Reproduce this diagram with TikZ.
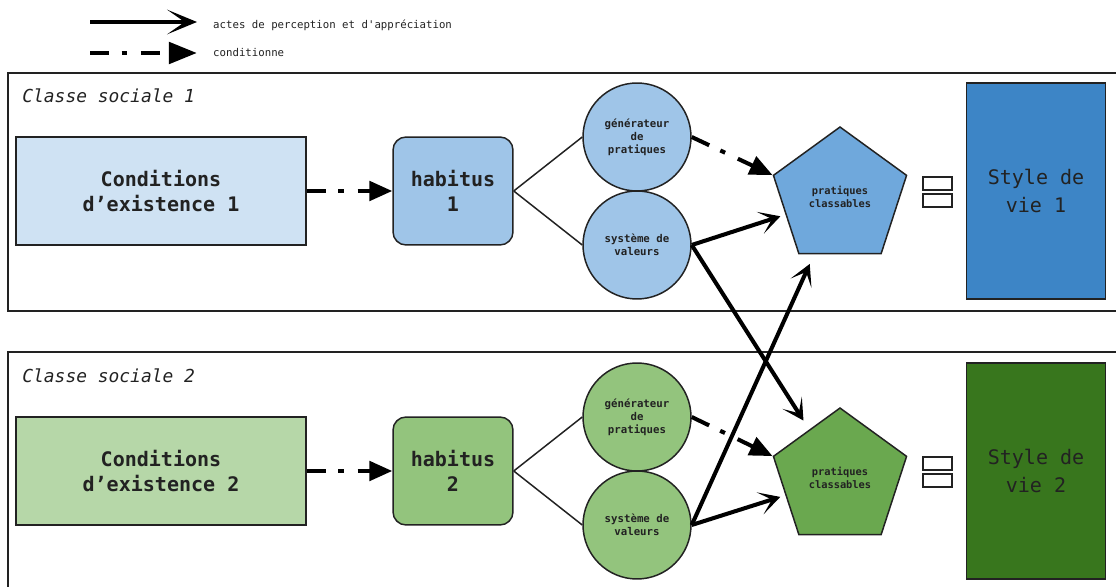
\documentclass[tikz,border=0pt]{standalone}
\usepackage{fontspec}
\setmainfont{DejaVu Sans Mono}
\usetikzlibrary{shapes.geometric,arrows.meta}

\definecolor{condblue}{HTML}{CFE2F3}
\definecolor{habblue}{HTML}{9FC5E8}
\definecolor{pentblue}{HTML}{6FA8DC}
\definecolor{styleblue}{HTML}{3D85C6}
\definecolor{condgreen}{HTML}{B6D7A8}
\definecolor{habgreen}{HTML}{93C47D}
\definecolor{pentgreen}{HTML}{6AA84F}
\definecolor{stylegreen}{HTML}{38761D}
\definecolor{trait}{HTML}{222222}

\begin{document}
\begin{tikzpicture}[x=0.02cm,y=-0.02cm,
  frame/.style={draw=trait,line width=0.85pt},
  box/.style={draw=trait,line width=0.85pt,align=center,inner sep=0pt,text=trait,
    font=\bfseries\fontsize{11.4}{14.2}\selectfont},
  rond/.style={circle,draw=trait,line width=0.85pt,minimum size=2.16cm,inner sep=0pt,
    align=center,text=trait,font=\bfseries\fontsize{6.1}{7.4}\selectfont},
  penta/.style={regular polygon,regular polygon sides=5,minimum size=2.8cm,inner sep=0pt,
    draw=trait,line width=0.85pt,align=center,text=trait,font=\bfseries\fontsize{5.9}{7}\selectfont},
  vie/.style={box,minimum width=2.78cm,minimum height=4.32cm,font=\fontsize{11.4}{15.4}\selectfont},
  perception/.style={line width=2.3pt,-{Stealth[length=12pt,width=13pt,inset=7pt]}},
  condition/.style={line width=2.3pt,dash pattern=on 11pt off 7pt on 3pt off 8pt,
    -{Triangle[length=13pt,width=11pt]}},
  fin/.style={draw=trait,line width=0.85pt}
]
\useasboundingbox (0,0) rectangle (1116,587);

% Draw the legend
  \coordinate (percA) at (90,22);
  \coordinate (percB) at (197,22);
  \coordinate (condA) at (90,53);
  \coordinate (condB) at (197,53);
  \draw[line width=2.8pt,-{Stealth[length=17pt,width=14pt,inset=10pt]}] (percA) -- (percB);
  \draw[condition,line width=2.8pt,-{Triangle[length=16pt,width=12pt]}] (condA) -- (condB);
  \node[anchor=west,text=trait,font=\fontsize{6.1}{7}\selectfont] (percT) at (207,25) {actes de perception et d\textquotesingle appréciation};
  \node[anchor=west,text=trait,font=\fontsize{6.1}{7}\selectfont] (condT) at (207,53) {conditionne};


% Draw the two social classes
  \draw[frame] (8,73) rectangle (1130,311);
  \draw[frame] (8,352) rectangle (1130,600);
  \node[anchor=base west,inner sep=0pt,text=trait,font=\itshape\fontsize{10.2}{12}\selectfont] (cls1) at (22,103) {Classe sociale 1};
  \node[anchor=base west,inner sep=0pt,text=trait,font=\itshape\fontsize{10.2}{12}\selectfont] (cls2) at (22,383) {Classe sociale 2};


% Draw the first class
  \node[box,fill=condblue,minimum width=5.8cm,minimum height=2.16cm] (con1) at (161,191) {Conditions\\d'existence 1};
  \node[box,fill=habblue,rounded corners=0.26cm,minimum width=2.4cm,minimum height=2.16cm] (hab1) at (453,191) {habitus\\1};
  \node[rond,fill=habblue] (gen1) at (637,137) {générateur\\de\\pratiques};
  \node[rond,fill=habblue] (sys1) at (637,245) {système de\\valeurs};
  \node[penta,fill=pentblue] (pra1) at (840,197) {pratiques\\classables};
  \node[vie,fill=styleblue] (sty1) at (1036,191) {Style de\\vie 1};


% Draw the second class
  \node[box,fill=condgreen,minimum width=5.8cm,minimum height=2.16cm] (con2) at (161,471) {Conditions\\d'existence 2};
  \node[box,fill=habgreen,rounded corners=0.26cm,minimum width=2.4cm,minimum height=2.16cm] (hab2) at (453,471) {habitus\\2};
  \node[rond,fill=habgreen] (gen2) at (637,417) {générateur\\de\\pratiques};
  \node[rond,fill=habgreen] (sys2) at (637,525) {système de\\valeurs};
  \node[penta,fill=pentgreen] (pra2) at (840,478) {pratiques\\classables};
  \node[vie,fill=stylegreen] (sty2) at (1036,471) {Style de\\vie 2};


% Draw the little boxes between practices and style
  \foreach \dy in {0,280} {
    \draw[fin] (923,177+\dy) rectangle (952,190+\dy);
    \draw[fin] (923,194+\dy) rectangle (952,207+\dy);
  }


% Draw the links inside each class
  \foreach \i in {1,2} {
    \draw[condition] (con\i) -- (hab\i);
    \draw[fin] (hab\i.east) -- (gen\i.west);
    \draw[fin] (hab\i.east) -- (sys\i.west);
    \draw[condition] (gen\i.east) -- (pra\i.corner 2);
  }


% Draw the value arrows
  \draw[perception,shorten >=3pt] (sys1.east) -- (pra1);
  \draw[perception,shorten >=6pt] (sys1.east) -- (pra2);
  \draw[perception,shorten >=6pt] (sys2.east) -- (pra1);
  \draw[perception,shorten >=3pt] (sys2.east) -- (pra2);

\end{tikzpicture}
\end{document}
